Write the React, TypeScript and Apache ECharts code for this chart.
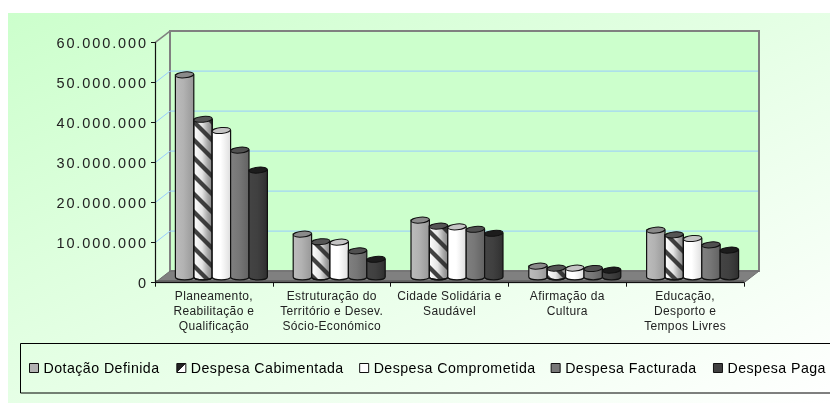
import React, { useEffect, useRef } from "react";
import * as echarts from "echarts";

const categories = [
  "Planeamento,\nReabilitação e\nQualificação",
  "Estruturação do\nTerritório e Desev.\nSócio-Económico",
  "Cidade Solidária e\nSaudável",
  "Afirmação da\nCultura",
  "Educação,\nDesporto e\nTempos Livres",
];
const seriesNames = ["Dotação Definida", "Despesa Cabimentada", "Despesa Comprometida", "Despesa Facturada", "Despesa Paga"];
const dotacao = [50500000, 10700000, 14200000, 2700000, 11700000];
const cabimentada = [39400000, 8800000, 12700000, 2200000, 10500000];
const comprometida = [36600000, 8700000, 12500000, 2200000, 9600000];
const facturada = [31700000, 6500000, 11900000, 2100000, 8000000];
const paga = [26700000, 4400000, 10900000, 1700000, 6700000];
const seriesValues = [dotacao, cabimentada, comprometida, facturada, paga];
const axisTicks = [0, 10000000, 20000000, 30000000, 40000000, 50000000, 60000000];

const bodyStops = [
  ["#bcbcbc", "#b2b2b2", "#a4a4a4", "#989898"],
  ["#ffffff", "#e4e4e4", "#aaaaaa", "#848484"],
  ["#ffffff", "#ffffff", "#eeeeee", "#dedede"],
  ["#808080", "#777777", "#6c6c6c", "#626262"],
  ["#444444", "#404040", "#383838", "#2e2e2e"],
];
const topColors = ["#8a8a8a", "#555555", "#c4c4c4", "#505050", "#1c1c1c"];
const legendColors = ["#b2b2b2", "", "#ffffff", "#777777", "#404040"];

const DX = 15;
const DY = 11.6;
const BAR_W = 18.4;
const RY = 2.9;

function hatchTile(): HTMLCanvasElement {
  const s = 18;
  const c = document.createElement("canvas");
  c.width = s;
  c.height = s;
  const g = c.getContext("2d")!;
  g.strokeStyle = "rgba(40,40,40,0.88)";
  g.lineWidth = 4.2;
  for (const o of [-s, 0, s]) {
    g.beginPath();
    g.moveTo(o - 2, -2);
    g.lineTo(o + s + 2, s + 2);
    g.stroke();
  }
  return c;
}

const css = `
#root svg text[style*="14.5px"] { letter-spacing: 1.9px; }
#root svg text[style*="14.2px"] { letter-spacing: 0.45px; }
#root svg text[style*="12px"] { letter-spacing: 0.35px; }
`;

export default function App() {
  const ref = useRef<HTMLDivElement>(null);
  useEffect(() => {
    const chart = echarts.init(ref.current!, undefined, { renderer: "svg" });
    const tile = hatchTile();

    const wallSeries = {
      type: "custom",
      name: "wall",
      z: -1,
      silent: true,
      data: axisTicks.map((t) => [0, t]),
      encode: { x: 0, y: 1 },
      renderItem: (params: any, api: any) => {
        const cs = params.coordSys;
        const x0 = cs.x;
        const x1 = cs.x + cs.width;
        const y = api.coord([0, api.value(1)])[1];
        const isBase = api.value(1) === 0;
        const isTop = api.value(1) === axisTicks[axisTicks.length - 1];
        const children: any[] = [];
        if (isBase) {
          children.push({
            type: "polygon",
            shape: { points: [[x0 + DX, cs.y - DY], [x1 + DX, cs.y - DY], [x1 + DX, y - DY], [x0 + DX, y - DY]] },
            style: { fill: "#ccffcc", stroke: "#808080", lineWidth: 2 },
          });
          children.push({
            type: "polygon",
            shape: { points: [[x0, y], [x1, y], [x1 + DX, y - DY], [x0 + DX, y - DY]] },
            style: { fill: "#808080", stroke: "#6e6e6e", lineWidth: 1 },
          });
          children.push({
            type: "line",
            shape: { x1: x0, y1: cs.y, x2: x0 + DX, y2: cs.y - DY },
            style: { stroke: "#808080", lineWidth: 1.5 },
          });
          children.push({
            type: "rect",
            shape: { x: x0, y: y - 2.5, width: cs.width, height: 2.5 },
            style: { fill: "#5f5f5f" },
          });
        } else if (!isTop) {
          children.push({
            type: "polyline",
            shape: { points: [[x0, y], [x0 + DX, y - DY], [x1 + DX - 1, y - DY]] },
            style: { fill: "none", stroke: "#99ccff", lineWidth: 1 },
          });
        }
        return { type: "group", children };
      },
    };

    const barSeries = seriesNames.map((name, si) => ({
      type: "custom",
      name,
      z: 3,
      itemStyle: { color: legendColors[si] || "#888888" },
      data: seriesValues[si].map((v, i) => [i, v]),
      encode: { x: 0, y: 1 },
      renderItem: (_p: any, api: any) => {
        const base = api.coord([api.value(0), 0]);
        const top = api.coord([api.value(0), api.value(1)]);
        const cx = base[0] + DX / 2 + (si - 2) * BAR_W;
        const yb = base[1] - DY / 2;
        const yt = top[1] - DY / 2;
        const rx = BAR_W / 2;
        const d = `M${cx - rx} ${yt}L${cx - rx} ${yb}A${rx} ${RY} 0 0 0 ${cx + rx} ${yb}L${cx + rx} ${yt}Z`;
        const stops = bodyStops[si];
        const children: any[] = [
          {
            type: "path",
            shape: { pathData: d, layout: "center", x: cx - rx, y: yt, width: BAR_W, height: yb + RY - yt },
            style: {
              fill: new echarts.graphic.LinearGradient(0, 0, 1, 0, [
                { offset: 0, color: stops[0] },
                { offset: 0.45, color: stops[1] },
                { offset: 0.75, color: stops[2] },
                { offset: 1, color: stops[3] },
              ]),
              stroke: "#111111",
              lineWidth: 1.2,
            },
          },
        ];
        if (si === 1) {
          children.push({
            type: "path",
            shape: { pathData: d, layout: "center", x: cx - rx, y: yt, width: BAR_W, height: yb + RY - yt },
            style: { fill: { image: tile, repeat: "repeat" } as any, stroke: "#111111", lineWidth: 1.2 },
          });
        }
        children.push({
          type: "ellipse",
          x: cx,
          y: yt,
          rotation: 0.1,
          shape: { cx: 0, cy: 0, rx, ry: RY },
          style: { fill: topColors[si], stroke: "#111111", lineWidth: 1 },
        });
        return { type: "group", children };
      },
    }));

    chart.setOption({
      animation: false,
      graphic: {
        elements: [
          {
            type: "rect",
            z: -10,
            silent: true,
            shape: { x: 8, y: 13, width: 822, height: 390 },
            style: {
              fill: new echarts.graphic.LinearGradient(0, 0, 1, 1, [
                { offset: 0, color: "#ccffcc" },
                { offset: 1, color: "#ffffff" },
              ]),
            },
          },
          {
            type: "rect",
            z: -5,
            silent: true,
            shape: { x: 20.5, y: 343.5, width: 900, height: 49.5 },
            style: { fill: "none", stroke: "#000000", lineWidth: 1 },
          },
        ],
      },
      grid: { left: 155, right: 86, top: 42.7, bottom: 120.3 },
      legend: {
        left: 24,
        top: 356,
        width: 1000,
        itemWidth: 9,
        itemHeight: 9,
        itemGap: 24,
        selectedMode: false,
        textStyle: { fontFamily: "Liberation Sans", fontSize: 14.2, color: "#000000" },
        data: seriesNames.map((name, i) => ({
          name,
          icon: "rect",
          itemStyle: {
            color:
              i === 1
                ? new echarts.graphic.LinearGradient(0, 0, 1, 1, [
                    { offset: 0, color: "#222222" },
                    { offset: 0.5, color: "#222222" },
                    { offset: 0.5, color: "#ffffff" },
                    { offset: 1, color: "#ffffff" },
                  ])
                : legendColors[i],
            borderColor: "#111111",
            borderWidth: 1,
          },
        })),
      },
      xAxis: {
        type: "category",
        data: categories,
        axisLine: { lineStyle: { color: "#111111", width: 1 } },
        axisTick: { show: true, length: 4, lineStyle: { color: "#111111" } },
        axisLabel: {
          interval: 0,
          margin: 6,
          fontFamily: "Liberation Sans",
          fontSize: 12,
          lineHeight: 15,
          color: "#222222",
        },
      },
      yAxis: {
        type: "value",
        min: axisTicks[0],
        max: axisTicks[axisTicks.length - 1],
        interval: axisTicks[1] - axisTicks[0],
        splitLine: { show: false },
        axisLine: { show: true, lineStyle: { color: "#111111", width: 1.2 } },
        axisTick: { show: true, length: 4, lineStyle: { color: "#111111" } },
        axisLabel: {
          margin: 7,
          fontFamily: "Liberation Sans",
          fontSize: 14.5,
          color: "#222222",
          formatter: (v: number) => String(v).replace(/\B(?=(\d{3})+$)/g, "."),
        },
      },
      series: [wallSeries, ...barSeries],
    });
    return () => chart.dispose();
  }, []);
  return (
    <>
      <style>{css}</style>
      <div ref={ref} style={{ position: "fixed", left: 0, top: 0, width: 830, height: 403 }} />
    </>
  );
}
